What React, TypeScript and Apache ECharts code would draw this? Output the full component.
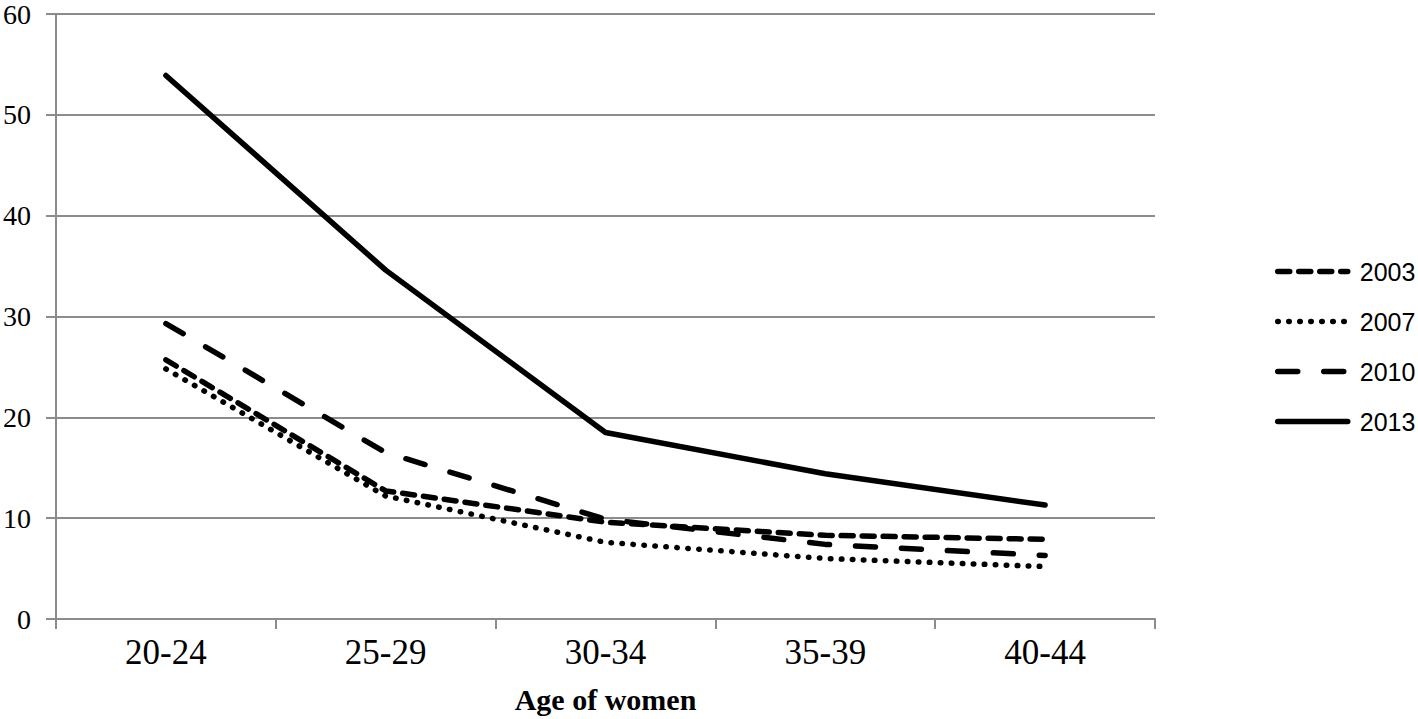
import React, { useEffect, useRef } from "react";
import * as echarts from "echarts";

const categories = ["20-24", "25-29", "30-34", "35-39", "40-44"];
const seriesNames = ["2003", "2007", "2010", "2013"];
const values2003 = [25.7, 12.7, 9.6, 8.3, 7.9];
const values2007 = [24.8, 12.2, 7.6, 6.0, 5.2];
const values2010 = [29.3, 16.5, 9.9, 7.4, 6.3];
const values2013 = [53.9, 34.6, 18.5, 14.4, 11.3];
const yTicks = [0, 10, 20, 30, 40, 50, 60];

export default function App() {
  const ref = useRef<HTMLDivElement>(null);
  useEffect(() => {
    document.body.style.margin = "0";
    document.body.style.overflow = "hidden";
    if (!ref.current) return;
    const chart = echarts.init(ref.current, null, { renderer: "svg", width: 1418, height: 719 });
    const mk = (name: string, data: number[], type: any) => ({
      name,
      type: "line",
      data,
      symbol: "none",
      smooth: false,
      lineStyle: { color: "#000", width: 5.5, type, cap: "round", join: "round" },
      itemStyle: { color: "#000" },
    });
    chart.setOption({
      animation: false,
      backgroundColor: "#fff",
      grid: { left: 55, right: 263, top: 9, bottom: 74, containLabel: false },
      legend: {
        orient: "vertical",
        left: 1270,
        top: 254,
        itemWidth: 70,
        itemHeight: 14,
        itemGap: 25,
        data: seriesNames,
        itemStyle: { opacity: 0 },
        lineStyle: { width: 5.5, cap: "round" },
        textStyle: { fontFamily: "Liberation Sans", fontSize: 25, color: "#000", padding: [0, 0, 0, 7] },
      },
      xAxis: {
        type: "category",
        data: categories,
        boundaryGap: true,
        name: "Age of women",
        nameLocation: "middle",
        nameGap: 65,
        nameTextStyle: { fontFamily: "Liberation Serif", fontSize: 30, fontWeight: "bold", color: "#000" },
        axisLine: { lineStyle: { color: "#8c8c8c", width: 2 } },
        axisTick: { show: true, length: 10, lineStyle: { color: "#8c8c8c", width: 2 } },
        axisLabel: { fontFamily: "Liberation Serif", fontSize: 35, color: "#000", margin: 16 },
      },
      yAxis: {
        type: "value",
        min: 0,
        max: 60,
        interval: 10,
        axisLine: { show: true, lineStyle: { color: "#8c8c8c", width: 2 } },
        axisTick: { show: true, length: 10, lineStyle: { color: "#8c8c8c", width: 2 } },
        splitLine: { lineStyle: { color: "#8c8c8c", width: 2 } },
        axisLabel: {
          fontFamily: "Liberation Serif",
          fontSize: 28,
          color: "#000",
          margin: 25,
          formatter: (v: number) => (yTicks.includes(v) ? String(v) : ""),
        },
      },
      series: [
        mk("2003", values2003, [12, 9]),
        mk("2007", values2007, [0.5, 10.5]),
        mk("2010", values2010, [20, 26]),
        mk("2013", values2013, "solid"),
      ],
    });
    return () => chart.dispose();
  }, []);
  return <div ref={ref} style={{ width: 1418, height: 719, background: "#fff" }} />;
}
